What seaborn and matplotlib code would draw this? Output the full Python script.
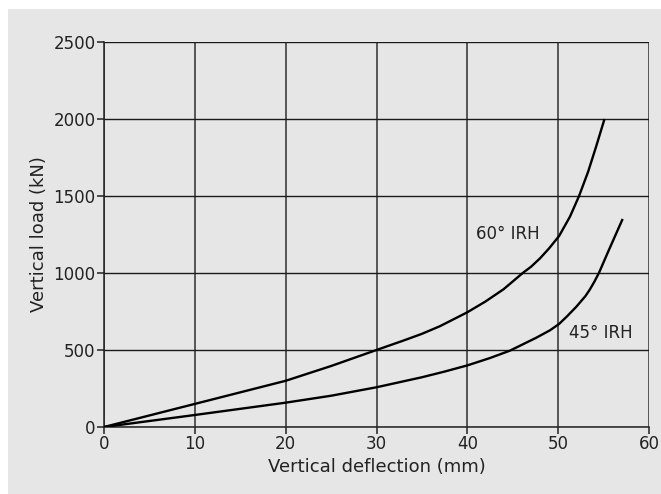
import matplotlib.pyplot as plt
import pandas as pd
import seaborn as sns
from matplotlib.patches import Rectangle

# valeurs
defl_60 = [0, 10, 20, 25, 30, 33, 35, 37, 40, 42, 44, 46.1, 47, 48, 49, 50.1, 51.3, 52.3, 53.3, 54.2, 55.1]
load_60 = [0, 150, 300, 396, 500, 562, 605, 655, 745, 815, 895, 1000, 1040, 1095, 1160, 1240, 1366, 1500, 1658, 1825, 2000]

defl_45 = [0, 10, 20, 25, 30, 35, 37.5, 40, 42.5, 44.7, 47.6, 49.1, 50.1, 51, 52, 53, 53.5, 54, 54.5, 55.5, 56.4, 57.1]
load_45 = [0, 78, 158, 203, 258, 323, 360, 400, 448, 496, 580, 628, 669, 720, 781, 850, 894, 945, 1002, 1138, 1258, 1351]

x_ticks = [0, 10, 20, 30, 40, 50, 60]
y_ticks = [0, 500, 1000, 1500, 2000, 2500]

df = pd.concat([
    pd.DataFrame({'defl': defl_60, 'load': load_60, 'curve': '60° IRH'}),
    pd.DataFrame({'defl': defl_45, 'load': load_45, 'curve': '45° IRH'}),
])

bg = '#e6e6e6'
txt = '#222222'
sns.set_style('ticks')
plt.rcParams['font.family'] = ['DejaVu Sans']

fig = plt.figure(figsize=(6.61, 4.94), dpi=100, facecolor='white')
fig.add_artist(Rectangle((8 / 661, 0), 1, 1 - 9 / 494, transform=fig.transFigure,
                         facecolor=bg, edgecolor='none', zorder=-10))
ax = fig.add_axes([104 / 661, 1 - 427 / 494, 545 / 661, 385 / 494])
ax.set_facecolor(bg)

sns.lineplot(data=df, x='defl', y='load', hue='curve', palette=['black', 'black'],
             sort=False, estimator=None, linewidth=1.7, legend=False, ax=ax, zorder=3)
for line in ax.lines:
    line.set_solid_joinstyle('round')
    line.set_solid_capstyle('butt')

ax.set_xlim(0, 60)
ax.set_ylim(0, 2500)
ax.set_xticks(x_ticks)
ax.set_yticks(y_ticks)
ax.grid(True, axis='x', color='#4a4a4a', linewidth=1.3)
ax.grid(True, axis='y', color='#1a1a1a', linewidth=1.0)
ax.set_axisbelow(True)
for side in ['top', 'right']:
    ax.spines[side].set_visible(False)
for side in ['left', 'bottom']:
    ax.spines[side].set_color('#222222')
    ax.spines[side].set_linewidth(1.1)
ax.tick_params(length=5, width=1.1, color='#222222', labelsize=12, labelcolor=txt, pad=1)

ax.set_xlabel('Vertical deflection (mm)', fontsize=13, color=txt, labelpad=3)
ax.set_ylabel('Vertical load (kN)', fontsize=13, color=txt, labelpad=4)

ax.text(41.0, 1251, '60° IRH', fontsize=12, color=txt, va='center', ha='left')
ax.text(51.2, 608, '45° IRH', fontsize=12, color=txt, va='center', ha='left')

fig.savefig('out.png', dpi=100, facecolor=fig.get_facecolor())
